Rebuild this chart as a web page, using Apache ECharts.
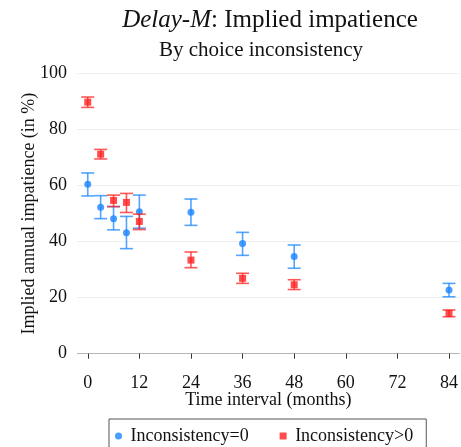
<!DOCTYPE html>
<html>
<head>
<meta charset="UTF-8">
<title>Delay-M: Implied impatience</title>
<script src="https://cdn.jsdelivr.net/npm/echarts@6/dist/echarts.min.js"></script>
<style>
  html, body { margin: 0; padding: 0; background: #fff; }
  #main { width: 461px; height: 447px; }
</style>
</head>
<body>
<div id="main"></div>
<script type="text/javascript">
// months of delay
var months = [0, 3, 6, 9, 12, 24, 36, 48, 84];
var xTicks = [0, 12, 24, 36, 48, 60, 72, 84];

// Inconsistency=0
var blueMean = [60.5, 52.3, 48.2, 43.2, 50.7, 50.5, 39.3, 34.7, 22.7];
var blueLo   = [56.3, 48.2, 44.2, 37.5, 44.8, 45.8, 35.1, 30.5, 20.3];
var blueHi   = [64.5, 56.4, 52.5, 49.0, 56.6, 55.2, 43.3, 38.8, 25.1];

// Inconsistency>0
var redMean = [89.8, 71.2, 54.7, 54.0, 47.2, 33.4, 26.9, 24.6, 14.4];
var redLo   = [87.9, 69.5, 52.5, 50.4, 44.3, 30.7, 25.1, 22.9, 13.2];
var redHi   = [91.6, 72.9, 56.6, 57.2, 49.8, 36.3, 28.7, 26.4, 15.6];

var BLUE = '#1a85ff';
var RED = '#ff2020';
var font = 'Liberation Serif';

function pts(ys) {
	return months.map(function (m, i) { return [m, ys[i]]; });
}
function bars(lo, hi) {
	return months.map(function (m, i) { return [m, lo[i], hi[i]]; });
}

function errorBar(color) {
	return function (params, api) {
		var top = api.coord([api.value(0), api.value(2)]);
		var bot = api.coord([api.value(0), api.value(1)]);
		var w = 6.5;
		var style = { stroke: color, lineWidth: 1.6, opacity: 0.75 };
		return {
			type: 'group',
			children: [
				{ type: 'line', shape: { x1: top[0], y1: top[1], x2: bot[0], y2: bot[1] }, style: style },
				{ type: 'line', shape: { x1: top[0] - w, y1: top[1], x2: top[0] + w, y2: top[1] }, style: style },
				{ type: 'line', shape: { x1: bot[0] - w, y1: bot[1], x2: bot[0] + w, y2: bot[1] }, style: style }
			]
		};
	};
}

var myChart = echarts.init(document.getElementById('main'));
var option = {
	animation: false,
	textStyle: { fontFamily: font },
	title: [
		{
			text: '{i|Delay-M}: Implied impatience',
			left: 265,
			textAlign: 'center',
			top: 3,
			textStyle: {
				fontFamily: font, fontSize: 25, fontWeight: 'normal', color: '#111',
				rich: { i: { fontFamily: font, fontSize: 25, fontStyle: 'italic', color: '#111' } }
			}
		},
		{
			text: 'By choice inconsistency',
			left: 256,
			textAlign: 'center',
			top: 35,
			textStyle: { fontFamily: font, fontSize: 21, fontWeight: 'normal', color: '#111' }
		}
	],
	legend: {
		left: 109,
		top: 419,
		padding: [8, 13, 8, 6],
		borderColor: '#555',
		borderWidth: 1,
		borderRadius: 0,
		itemGap: 31,
		itemWidth: 14,
		itemHeight: 7,
		textStyle: { fontFamily: font, fontSize: 18, color: '#111' },
		data: [
			{ name: 'Inconsistency=0', icon: 'circle' },
			{ name: 'Inconsistency>0', icon: 'path://M0 0H10V10H0Z' }
		]
	},
	grid: { left: 77, right: 1, top: 73.5, bottom: 93.3 },
	xAxis: {
		type: 'value',
		min: -2.5,
		max: 86.5,
		offset: 12,
		name: 'Time interval (months)',
		nameLocation: 'middle',
		nameGap: 26,
		nameMoveOverlap: false,
		nameTextStyle: { fontFamily: font, fontSize: 18, color: '#111' },
		axisLine: { show: false },
		axisTick: { show: true, length: 5, customValues: xTicks, lineStyle: { color: '#333' } },
		axisLabel: { customValues: xTicks, margin: 9, fontFamily: font, fontSize: 18, color: '#111' },
		splitLine: { show: false }
	},
	yAxis: {
		type: 'value',
		min: 0,
		max: 100,
		interval: 20,
		name: 'Implied annual impatience (in %)',
		nameLocation: 'middle',
		nameGap: 39,
		nameMoveOverlap: false,
		nameTextStyle: { fontFamily: font, fontSize: 18, color: '#111' },
		axisLine: { show: false },
		axisTick: { show: false },
		axisLabel: { margin: 10, fontFamily: font, fontSize: 18, color: '#111' },
		splitLine: { show: true, lineStyle: { color: ['#b5b5b5', '#eeeeee', '#eeeeee', '#eeeeee', '#eeeeee', '#f0f0f0'], width: 1 } }
	},
	series: [
		{
			name: 'ci0', type: 'custom', renderItem: errorBar(BLUE),
			data: bars(blueLo, blueHi), z: 2, silent: true
		},
		{
			name: 'Inconsistency=0', type: 'scatter', symbol: 'circle', symbolSize: 7,
			itemStyle: { color: BLUE }, data: pts(blueMean), z: 3
		},
		{
			name: 'ci1', type: 'custom', renderItem: errorBar(RED),
			data: bars(redLo, redHi), z: 4, silent: true
		},
		{
			name: 'Inconsistency>0', type: 'scatter', symbol: 'rect', symbolSize: 7,
			itemStyle: { color: RED }, data: pts(redMean), z: 5
		}
	]
};
myChart.setOption(option, true);
</script>
</body>
</html>
